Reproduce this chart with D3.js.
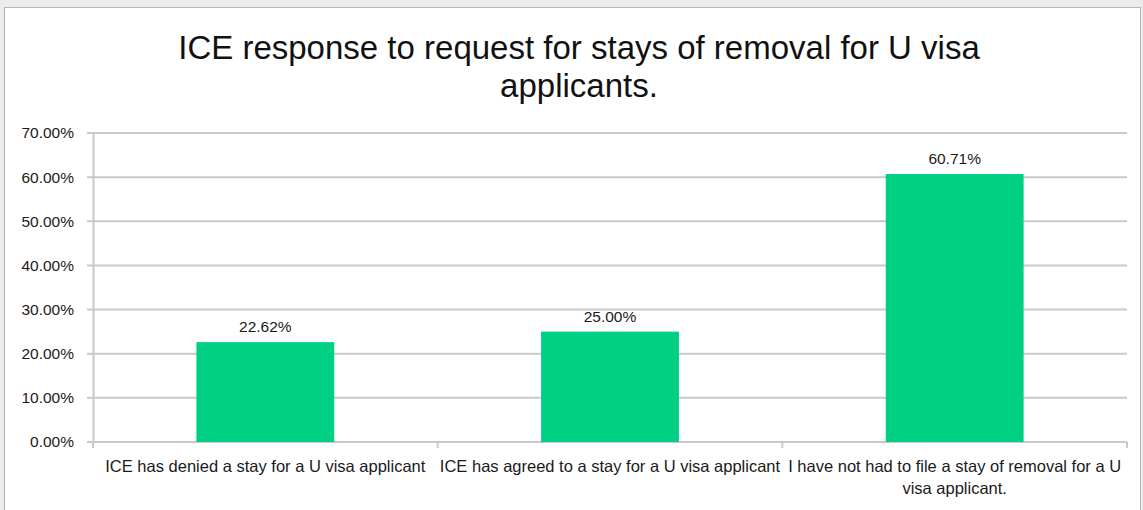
<!DOCTYPE html>
<html>
<head>
<meta charset="utf-8">
<script src="https://cdn.jsdelivr.net/npm/d3@7"></script>
<style>
  body { margin: 0; background: #ececec; }
  #chart { position: absolute; left: 0; top: 0; }
</style>
</head>
<body>
<div id="chart"></div>
<script>
const categories = [
  "ICE has denied a stay for a U visa applicant",
  "ICE has agreed to a stay for a U visa applicant",
  "I have not had to file a stay of removal for a U visa applicant."
];
const values = [0.2262, 0.25, 0.6071];
const yTicks = [0, 0.1, 0.2, 0.3, 0.4, 0.5, 0.6, 0.7];
const titleLines = ["ICE response to request for stays of removal for U visa", "applicants."];

const W = 1143, H = 510;
const margin = { top: 133, right: 16, bottom: 68, left: 93 };
const width = W - margin.left - margin.right,
  height = H - margin.top - margin.bottom;

const labelFont = "Liberation Sans, Arial, sans-serif";

const root = d3.select("#chart")
  .append("svg")
  .attr("width", W)
  .attr("height", H);

// frame of the chart area
root.append("rect")
  .attr("x", 4.5).attr("y", 7.5)
  .attr("width", W - 7).attr("height", H)
  .attr("fill", "white")
  .attr("stroke", "#b5b5b5");

root.append("g")
  .selectAll("text")
  .data(titleLines)
  .enter()
  .append("text")
  .attr("x", 579)
  .attr("y", (d, i) => 59 + i * 38)
  .attr("text-anchor", "middle")
  .attr("font-family", labelFont)
  .attr("font-size", 33)
  .attr("fill", "#111")
  .text(d => d);

const svg = root.append("g")
  .attr("transform", `translate(${margin.left},${margin.top})`);

const x = d3.scaleBand()
  .domain(categories)
  .range([0, width])
  .paddingInner(0.6)
  .paddingOuter(0.3);

const y = d3.scaleLinear()
  .domain([0, 0.7])
  .range([height, 0]);

const fmt = d3.format(".2%");

// gridlines + left ticks
svg.append("g")
  .selectAll("line")
  .data(yTicks)
  .enter()
  .append("line")
  .attr("x1", -6)
  .attr("x2", width)
  .attr("y1", d => y(d))
  .attr("y2", d => y(d))
  .attr("stroke", "#c9c9c9")
  .attr("stroke-width", 2);

const yAxis = svg.append("g")
  .call(d3.axisLeft(y).tickValues(yTicks).tickFormat(fmt).tickSize(0).tickPadding(19));
yAxis.select(".domain").attr("stroke", "#c9c9c9").attr("stroke-width", 2);
yAxis.selectAll("text")
  .attr("font-family", labelFont)
  .attr("font-size", 15.5)
  .attr("fill", "#1a1a1a");

// category separator ticks on x axis
const step = width / categories.length;
svg.append("g")
  .selectAll("line")
  .data(d3.range(categories.length + 1))
  .enter()
  .append("line")
  .attr("x1", d => d * step)
  .attr("x2", d => d * step)
  .attr("y1", height)
  .attr("y2", height + 6)
  .attr("stroke", "#c9c9c9")
  .attr("stroke-width", 2);

svg.append("g")
  .selectAll("rect")
  .data(values)
  .enter()
  .append("rect")
  .attr("x", (d, i) => x(categories[i]))
  .attr("y", d => y(d))
  .attr("width", x.bandwidth())
  .attr("height", d => height - y(d))
  .attr("fill", "#00d084");

svg.append("g")
  .selectAll("text")
  .data(values)
  .enter()
  .append("text")
  .attr("x", (d, i) => x(categories[i]) + x.bandwidth() / 2)
  .attr("y", d => y(d) - 10)
  .attr("text-anchor", "middle")
  .attr("font-family", labelFont)
  .attr("font-size", 15.5)
  .attr("fill", "#1a1a1a")
  .text(d => fmt(d));

// category labels, wrapped to the band
const wrapWidth = 350;
const labels = svg.append("g")
  .selectAll("text")
  .data(categories)
  .enter()
  .append("text")
  .attr("x", d => x(d) + x.bandwidth() / 2)
  .attr("y", height + 30)
  .attr("text-anchor", "middle")
  .attr("font-family", labelFont)
  .attr("font-size", 16.5)
  .attr("fill", "#1a1a1a");

labels.each(function(d) {
  const t = d3.select(this);
  const words = d.split(" ");
  let line = [];
  let tspan = t.append("tspan").attr("x", t.attr("x")).attr("dy", 0);
  words.forEach(w => {
    line.push(w);
    tspan.text(line.join(" "));
    if (tspan.node().getComputedTextLength() > wrapWidth && line.length > 1) {
      line.pop();
      tspan.text(line.join(" "));
      line = [w];
      tspan = t.append("tspan").attr("x", t.attr("x")).attr("dy", 22).text(w);
    }
  });
});
</script>
</body>
</html>
